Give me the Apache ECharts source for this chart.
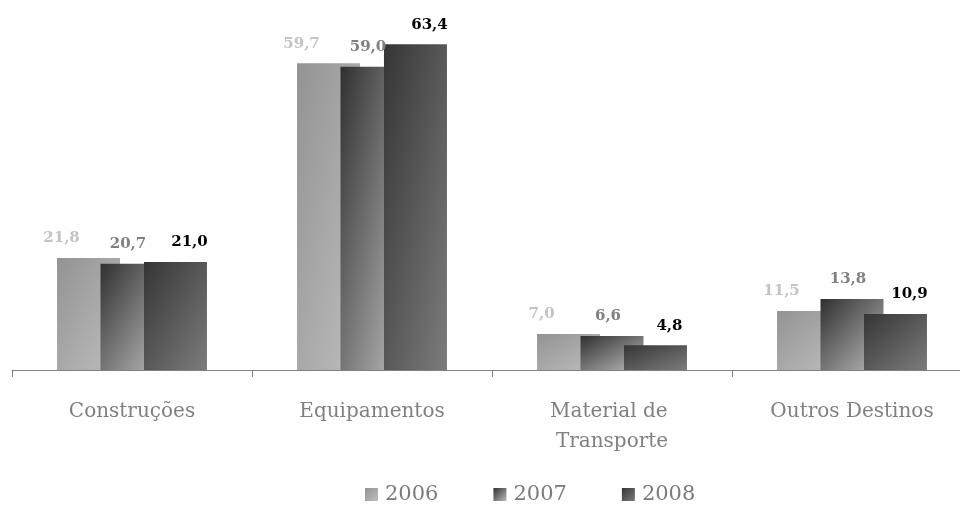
<!DOCTYPE html>
<html><head><meta charset="utf-8">
<script src="https://cdn.jsdelivr.net/npm/echarts@6/dist/echarts.min.js"></script>
<style>html,body{margin:0;padding:0;background:#fff;overflow:hidden;width:960px;height:506px}#c{width:972px;height:506px}</style>
</head><body><div id="c"></div>
<script>
var categories = ["Construções", "Equipamentos", "Material de Transporte", "Outros Destinos"];
var years = ["2006", "2007", "2008"];
var values2006 = [21.8, 59.7, 7.0, 11.5];
var values2007 = [20.7, 59.0, 6.6, 13.8];
var values2008 = [21.0, 63.4, 4.8, 10.9];

var Y_MAX = 72, PLOT_H = 370, BAR_W = 63;

function grad(x2, y2, c1, c2) {
  return new echarts.graphic.LinearGradient(0, 0, x2, y2, [{offset: 0, color: c1}, {offset: 1, color: c2}]);
}
// gradient whose iso-lines follow the bar's anti-diagonal (scaled, like office charts)
function diag(c1, c2) {
  return function (p) {
    var h = Math.max(1, p.value * PLOT_H / Y_MAX), w = BAR_W, d = h * h + w * w;
    return grad(2 * h * h / d, 2 * w * w / d, c1, c2);
  };
}
function fmt(p) { return p.value.toFixed(1).replace('.', ','); }

var palette = [['#939393', '#bdbdbd'], ['#303030', '#bababa'], ['#353535', '#7c7c7c']];
var seriesDefs = [
  {data: values2006, label: '#c3c3c3', off: -27},
  {data: values2007, label: '#808080', off: -4},
  {data: values2008, label: '#000000', off: 14}
];

var chart = echarts.init(document.getElementById('c'));
chart.setOption({
  animation: false,
  backgroundColor: '#fff',
  grid: {left: 12, right: 0, top: 0, bottom: 136, containLabel: false},
  legend: {
    top: 484, left: 365, padding: 0, itemWidth: 13, itemHeight: 13, itemGap: 55,
    icon: 'rect',
    textStyle: {fontFamily: 'DejaVu Serif', fontSize: 21, color: '#7a7a7a', padding: [0, 0, 0, 2]},
    data: years.map(function (y, i) {
      return {name: y, itemStyle: {color: grad(1, 1, palette[i][0], palette[i][1])}};
    })
  },
  xAxis: {
    type: 'category', data: categories,
    axisLine: {lineStyle: {color: '#808080', width: 1}},
    axisTick: {show: true, length: 7, lineStyle: {color: '#808080'}},
    axisLabel: {
      margin: 27, interval: 0, width: 170, overflow: 'break',
      fontFamily: 'DejaVu Serif', fontSize: 20, color: '#808080', lineHeight: 30
    }
  },
  yAxis: {type: 'value', min: 0, max: Y_MAX, show: false, splitLine: {show: false}},
  series: seriesDefs.map(function (s, i) {
    return {
      name: years[i], type: 'bar', data: s.data,
      barWidth: BAR_W, barGap: '-31%',
      itemStyle: {color: diag(palette[i][0], palette[i][1])},
      label: {
        show: true, position: 'top', distance: 12, offset: [s.off, 0],
        formatter: fmt,
        fontFamily: 'DejaVu Serif', fontWeight: 'bold', fontSize: 15, color: s.label
      }
    };
  })
});
</script></body></html>
